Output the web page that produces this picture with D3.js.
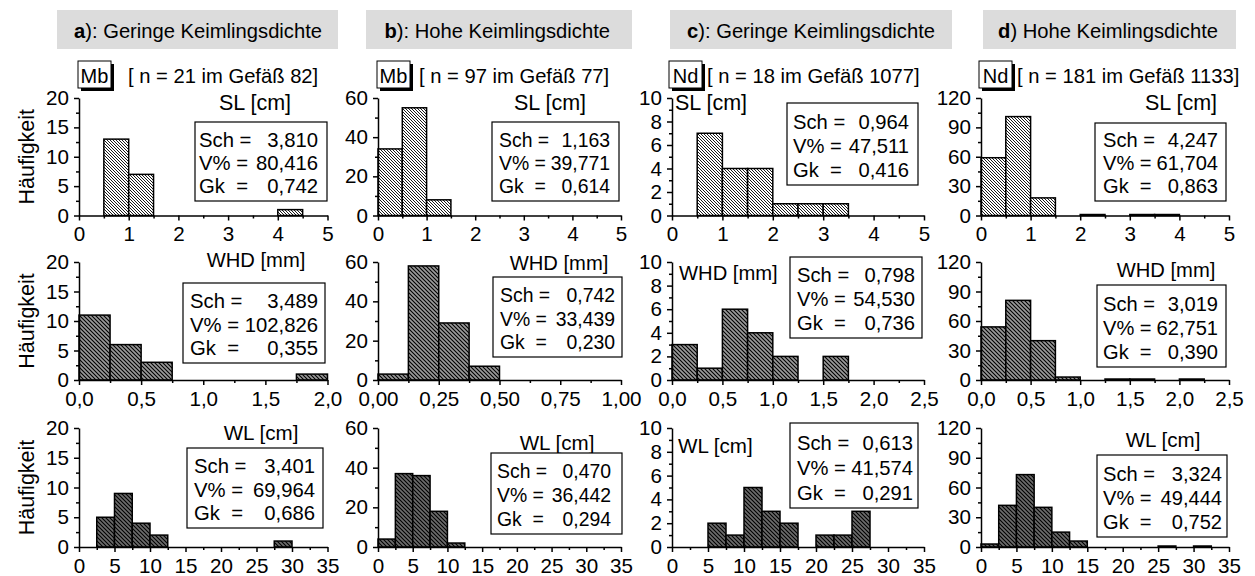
<!DOCTYPE html>
<html><head><meta charset="utf-8">
<script src="https://cdn.jsdelivr.net/npm/d3@7"></script>
<style>
body{margin:0;background:#fff;}
svg text{font-family:Arial,"Liberation Sans",sans-serif;fill:#000;white-space:pre;}
</style></head><body>
<svg id="chart" width="1255" height="576"></svg>
<script>
// ---- data -------------------------------------------------------------
const panelKeys   = ["a", "b", "c", "d"];
const panelTitles = ["): Geringe Keimlingsdichte", "): Hohe Keimlingsdichte",
                     "): Geringe Keimlingsdichte", ") Hohe Keimlingsdichte"];
const species     = ["Mb", "Mb", "Nd", "Nd"];
const sampleInfo  = ["[ n = 21 im Gefäß 82]", "[ n = 97 im Gefäß 77]",
                     "[ n = 18 im Gefäß 1077]", "[ n = 181 im Gefäß 1133]"];
const variables   = ["SL [cm]", "WHD [mm]", "WL [cm]"];

// class width per variable and panel; counts start at class 0
const slBinWidth  = [0.5, 0.5, 0.5, 0.5];
const slCounts    = [[0, 13, 7, 0, 0, 0, 0, 0, 1],
                     [34, 55, 8],
                     [0, 7, 4, 4, 1, 1, 1],
                     [59, 101, 18, 0, 1, 0, 1, 1]];
const whdBinWidth = [0.25, 0.125, 0.25, 0.25];
const whdCounts   = [[11, 6, 3, 0, 0, 0, 0, 1],
                     [3, 58, 29, 7],
                     [3, 1, 6, 4, 2, 0, 2],
                     [54, 81, 40, 3, 0, 1, 1, 0, 1]];
const wlBinWidth  = [2.5, 2.5, 2.5, 2.5];
const wlCounts    = [[0, 5, 9, 4, 2, 0, 0, 0, 0, 0, 0, 1],
                     [4, 37, 36, 18, 2],
                     [0, 0, 2, 1, 5, 3, 2, 0, 1, 1, 3],
                     [3, 42, 73, 40, 15, 6, 0, 0, 0, 0, 1, 0, 1]];

// statistics per panel: [SL, WHD, WL]
const statLabels = ["Sch =", "V% =", "Gk  ="];
const schValues = [["3,810", "3,489", "3,401"], ["1,163", "0,742", "0,470"],
                   ["0,964", "0,798", "0,613"], ["4,247", "3,019", "3,324"]];
const vValues   = [["80,416", "102,826", "69,964"], ["39,771", "33,439", "36,442"],
                   ["47,511", "54,530", "41,574"], ["61,704", "62,751", "49,444"]];
const gkValues  = [["0,742", "0,355", "0,686"], ["0,614", "0,230", "0,294"],
                   ["0,416", "0,736", "0,291"], ["0,863", "0,390", "0,752"]];

// axis extents and tick steps
const yMax  = [20, 60, 10, 120];
const yStep = [5, 20, 2, 30];
const xMax  = [[5, 2, 35], [5, 1, 35], [5, 2.5, 35], [5, 2.5, 35]];
const xStep = [[1, 0.5, 5], [1, 0.25, 5], [1, 0.5, 5], [1, 0.5, 5]];
const xDecimals = [[0, 1, 0], [0, 2, 0], [0, 1, 0], [0, 1, 0]];

// ---- layout -----------------------------------------------------------
const colX = [[79, 327.5], [378, 621], [672, 924], [981, 1229]];
const rowY = [[215.5, 98], [380, 262], [547, 428]];
const titleBox = [[57, 338], [366, 632], [670, 952], [983, 1236]];
const titleEndX = [322, 610, 935, 1218];
const tagBoxX = [78, 377, 669, 979];
const infoX = [128, 419, 707, 1017];
const varFontSize = [21.5, 20.2, 20.6];
const statFontSize = [20.3, 19.4, 20.2, 20.1];

// variable label positions [x, y, anchor]
const varLabelPos = [
  [[255, 110, "middle"], [256, 267, "middle"], [261, 440, "middle"]],
  [[550, 110, "middle"], [559, 270, "middle"], [557, 450, "middle"]],
  [[675, 110, "start"], [679, 280, "start"], [678, 453, "start"]],
  [[1181, 110, "middle"], [1166, 277, "middle"], [1163, 447, "middle"]]
];
// statistic boxes [x0, y0, x1, y1, labelX, valueX]
const statBox = [
  [[195, 122, 327, 201, 199, 318], [183, 283, 325, 363, 190, 318], [187, 448, 323, 528, 194, 315]],
  [[492, 122, 619, 201, 499, 610], [493, 277, 622, 357, 500, 615], [491, 453, 622, 534, 497, 611]],
  [[787, 103, 918, 185, 793, 909], [790, 257, 922, 338, 797, 915], [790, 423, 918, 508, 797, 913]],
  [[1095, 123, 1226, 201, 1103, 1218], [1097, 285, 1226, 367, 1103, 1218], [1097, 455, 1227, 537, 1103, 1222]]
];

const svg = d3.select("#chart");
const defs = svg.append("defs");

// diagonal hatch fills: light (white ground), medium and dark ground
const hatchFills = [["hatchLight", "#ffffff", 3, 0.9], ["hatchMid", "#9a9a9a", 4, 1.1], ["hatchDark", "#6c6c6c", 4, 1.1]];
hatchFills.forEach(([id, bg, s, sw]) => {
  const p = defs.append("pattern").attr("id", id)
    .attr("patternUnits", "userSpaceOnUse").attr("width", s).attr("height", s);
  p.append("rect").attr("width", s).attr("height", s).attr("fill", bg);
  p.append("path")
    .attr("d", `M-1,${s - 1} l2,2 M0,0 l${s},${s} M${s - 1},-1 l2,2`)
    .attr("stroke", "#000").attr("stroke-width", sw);
});

const deLocale = d3.formatLocale({decimal: ",", thousands: ".", grouping: [3], currency: ["", " €"]});

const countsByVar = [slCounts, whdCounts, wlCounts];
const widthByVar = [slBinWidth, whdBinWidth, wlBinWidth];
const fillByRow = ["url(#hatchLight)", "url(#hatchMid)", "url(#hatchDark)"];

panelKeys.forEach((key, p) => {
  // header box
  const [tb0, tb1] = titleBox[p];
  svg.append("rect").attr("x", tb0).attr("y", 10).attr("width", tb1 - tb0).attr("height", 39)
    .attr("fill", "#dcdcdc");
  const t = svg.append("text").attr("x", titleEndX[p]).attr("y", 38).attr("font-size", 20.2)
    .attr("text-anchor", "end");
  t.append("tspan").attr("font-weight", "bold").text(key);
  t.append("tspan").text(panelTitles[p]);

  // species tag with shadow
  const tx = tagBoxX[p], tw = 33, ty = 61, th = 27;
  svg.append("rect").attr("x", tx + 3).attr("y", ty + 3).attr("width", tw).attr("height", th).attr("fill", "#000");
  svg.append("rect").attr("x", tx).attr("y", ty).attr("width", tw).attr("height", th)
    .attr("fill", "#fff").attr("stroke", "#000").attr("stroke-width", 1);
  svg.append("text").attr("x", tx + tw / 2).attr("y", ty + 22).attr("text-anchor", "middle")
    .attr("font-size", 20).text(species[p]);
  svg.append("text").attr("x", infoX[p]).attr("y", 83).attr("font-size", 20.2).text(sampleInfo[p]);

  variables.forEach((vname, r) => {
    const [x0, x1] = colX[p];
    const [y0, y1] = rowY[r];
    const xs = d3.scaleLinear().domain([0, xMax[p][r]]).range([x0, x1]);
    const ys = d3.scaleLinear().domain([0, yMax[p]]).range([y0, y1]);
    const g = svg.append("g");

    // bars
    const w = widthByVar[r][p];
    const bins = countsByVar[r][p].map((c, i) => ({lo: i * w, hi: (i + 1) * w, c}))
      .filter(d => d.c > 0);
    g.selectAll("rect.bar").data(bins).join("rect").attr("class", "bar")
      .attr("x", d => xs(d.lo)).attr("width", d => xs(d.hi) - xs(d.lo))
      .attr("y", d => ys(d.c)).attr("height", d => ys(0) - ys(d.c))
      .attr("fill", fillByRow[r]).attr("stroke", "#000").attr("stroke-width", 1.5);

    // x axis
    const xst = xStep[p][r];
    const xMaj = d3.range(0, xMax[p][r] + xst / 2, xst);
    const xMin = d3.range(xst / 2, xMax[p][r], xst);
    const fmtX = deLocale.format(`.${xDecimals[p][r]}f`);
    const ax = g.append("g").attr("transform", `translate(0,${y0})`)
      .call(d3.axisBottom(xs).tickValues(xMaj).tickFormat(fmtX).tickSize(5).tickSizeOuter(0).tickPadding(6));
    const axm = g.append("g").attr("transform", `translate(0,${y0})`)
      .call(d3.axisBottom(xs).tickValues(xMin).tickFormat("").tickSize(3).tickSizeOuter(0));
    axm.select(".domain").remove();
    axm.selectAll("text").remove();

    // y axis
    const yst = yStep[p];
    const yMaj = d3.range(0, yMax[p] + yst / 2, yst);
    const yMin = d3.range(yst / 2, yMax[p], yst);
    const ay = g.append("g").attr("transform", `translate(${x0},0)`)
      .call(d3.axisLeft(ys).tickValues(yMaj).tickFormat(d3.format("d")).tickSize(5).tickSizeOuter(0).tickPadding(5));
    const aym = g.append("g").attr("transform", `translate(${x0},0)`)
      .call(d3.axisLeft(ys).tickValues(yMin).tickFormat("").tickSize(3).tickSizeOuter(0));
    aym.select(".domain").remove();
    aym.selectAll("text").remove();

    [ax, axm, ay, aym].forEach(a => {
      a.selectAll(".domain, line").attr("stroke", "#000").attr("stroke-width", 1.5);
      a.selectAll("text").attr("font-size", 20.6).attr("font-family", "Arial, 'Liberation Sans', sans-serif").attr("fill", "#000");
    });

    // variable label
    const [lx, ly, la] = varLabelPos[p][r];
    svg.append("text").attr("x", lx).attr("y", ly).attr("text-anchor", la)
      .attr("font-size", varFontSize[r]).text(vname);

    // statistics box
    const [bx0, by0, bx1, by1, lbx, vx] = statBox[p][r];
    svg.append("rect").attr("x", bx0).attr("y", by0).attr("width", bx1 - bx0).attr("height", by1 - by0)
      .attr("fill", "#fff").attr("stroke", "#000").attr("stroke-width", 1.2);
    const vals = [schValues[p][r], vValues[p][r], gkValues[p][r]];
    const hScale = (by1 - by0) / 80;
    vals.forEach((val, k) => {
      const yy = by0 + (25 + 23.5 * k) * hScale;
      svg.append("text").attr("x", lbx).attr("y", yy).attr("font-size", statFontSize[p])
        .attr("xml:space", "preserve").text(statLabels[k]);
      svg.append("text").attr("x", vx).attr("y", yy).attr("font-size", statFontSize[p])
        .attr("text-anchor", "end").text(val);
    });

    // y title on the first column
    if (p === 0) {
      svg.append("text")
        .attr("transform", `translate(34,${(y0 + y1) / 2}) rotate(-90)`)
        .attr("text-anchor", "middle").attr("font-size", 21.5).text("Häufigkeit");
    }
  });
});
</script>
</body></html>
